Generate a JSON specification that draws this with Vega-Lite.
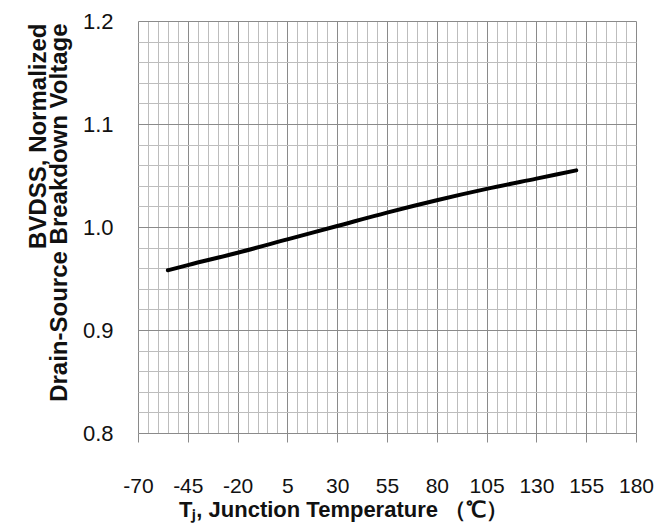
{
  "$schema": "https://vega.github.io/schema/vega-lite/v6.json",
  "autosize": "none",
  "width": 498,
  "height": 412,
  "padding": {"left": 138, "top": 21, "right": 18, "bottom": 96},
  "background": "white",
  "config": {"view": {"stroke": null}},
  "data": {
    "values": [
      {"T": -55, "BV": 0.958},
      {"T": -45, "BV": 0.963},
      {"T": -20, "BV": 0.975},
      {"T": 5, "BV": 0.988},
      {"T": 30, "BV": 1.001},
      {"T": 55, "BV": 1.014},
      {"T": 80, "BV": 1.026},
      {"T": 105, "BV": 1.037},
      {"T": 130, "BV": 1.047},
      {"T": 150, "BV": 1.055}
    ]
  },
  "mark": {"type": "line", "color": "#000000", "strokeWidth": 4, "interpolate": "monotone", "strokeCap": "round"},
  "encoding": {
    "x": {
      "field": "T",
      "type": "quantitative",
      "scale": {"domain": [-70, 180], "nice": false, "zero": false},
      "axis": {
        "values": [-70,-65,-60,-55,-50,-45,-40,-35,-30,-25,-20,-15,-10,-5,0,5,10,15,20,25,30,35,40,45,50,55,60,65,70,75,80,85,90,95,100,105,110,115,120,125,130,135,140,145,150,155,160,165,170,175,180],
        "labelExpr": "(datum.value + 70) % 25 === 0 ? '' + datum.value : ''",
        "labelOverlap": false,
        "labelFlush": false,
        "labelFont": "Liberation Sans",
        "labelFontSize": 21,
        "labelColor": "#111111",
        "labelPadding": 33,
        "tickSize": 9,
        "tickColor": "#8a8a8a",
        "tickOpacity": {"condition": {"test": "(datum.value + 70) % 25 === 0", "value": 1}, "value": 0},
        "domain": false,
        "grid": true,
        "gridColor": {"condition": {"test": "(datum.value + 70) % 25 === 0", "value": "#8a8a8a"}, "value": "#bdbdbd"},
        "gridOpacity": 1,
        "gridWidth": 1,
        "title": "Tⱼ, Junction Temperature （℃）",
        "titleFont": "Liberation Sans",
        "titleFontSize": 22,
        "titleFontWeight": "bold",
        "titleColor": "#111111",
        "titleX": 205,
        "titleY": 83,
        "titleAlign": "center",
        "titleBaseline": "alphabetic"
      }
    },
    "y": {
      "field": "BV",
      "type": "quantitative",
      "scale": {"domain": [0.8, 1.2], "nice": false, "zero": false},
      "axis": {
        "values": [0.8,0.82,0.84,0.86,0.88,0.9,0.92,0.94,0.96,0.98,1.0,1.02,1.04,1.06,1.08,1.1,1.12,1.14,1.16,1.18,1.2],
        "format": ".1f",
        "labelExpr": "abs(datum.value * 10 - round(datum.value * 10)) < 0.001 ? datum.label : ''",
        "labelOverlap": false,
        "labelFlush": false,
        "labelFont": "Liberation Sans",
        "labelFontSize": 22,
        "labelColor": "#111111",
        "labelPadding": 25,
        "ticks": false,
        "domain": false,
        "grid": true,
        "gridColor": {"condition": {"test": "abs(datum.value * 10 - round(datum.value * 10)) < 0.001", "value": "#8a8a8a"}, "value": "#bdbdbd"},
        "gridOpacity": 1,
        "gridWidth": 1,
        "title": ["BVDSS, Normalized", "Drain-Source Breakdown Voltage"],
        "titleFont": "Liberation Sans",
        "titleFontSize": 24,
        "titleFontWeight": "bold",
        "titleColor": "#111111",
        "titleLineHeight": 21,
        "titleAngle": 270,
        "titleX": -112,
        "titleY": 2,
        "titleAlign": "right",
        "titleBaseline": "top"
      }
    }
  }
}
